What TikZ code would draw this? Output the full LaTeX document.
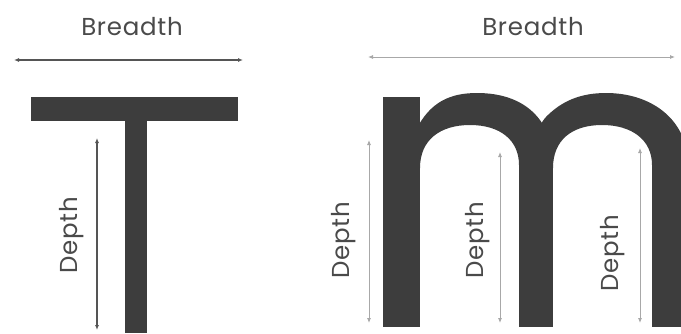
\documentclass[tikz,border=0pt]{standalone}
\usepackage{fontspec}
\setmainfont{Poppins}[LetterSpace=3]
\usetikzlibrary{arrows.meta}
\definecolor{glyph}{HTML}{3D3D3D}
\definecolor{label}{HTML}{4A4A4A}
\definecolor{darkdim}{HTML}{555555}
\definecolor{lightdim}{HTML}{A8A8A8}

\begin{document}
\begin{tikzpicture}[x=1pt,y=-1pt,>={Latex[length=5pt,width=4pt]},
  lbl/.style={text=label,font=\fontsize{24.5}{28}\selectfont,inner sep=0pt},
  dimT/.style={<->,draw=darkdim,line width=1.1pt},
  dimM/.style={<->,draw=lightdim,line width=0.8pt}]
  \useasboundingbox (0,0) rectangle (681,333);
  \clip (0,0) rectangle (681,333);

  % Letter T
  \fill[glyph] (31,97) rectangle (238,121);
  \fill[glyph] (125,121) rectangle (147,333);

  \coordinate (tbL) at (14,60);
  \coordinate (tbR) at (243,60);
  \draw[dimT] (tbL) -- (tbR);
  \node[lbl] (tBreadth) at (132,27) {Breadth};

  \coordinate (tdTop) at (97,138);
  \coordinate (tdBot) at (97,330);
  \draw[dimT] (tdTop) -- (tdBot);
  \node[lbl,rotate=90] (tDepth) at (72,235) {Depth};

  % Letter m: three stems and two arches
  \fill[glyph] (383,97) rectangle (420,327);
  \fill[glyph] (519,160) rectangle (553,327);
  \fill[glyph] (652,160) rectangle (690,327);
  \fill[glyph] (416,130) .. controls (430,102) and (450,93) .. (477,93)
    .. controls (525,93) and (553,120) .. (553,165) -- (519,165)
    .. controls (519,140) and (500,125) .. (470,125)
    .. controls (440,125) and (420,140) .. (420,168) -- (416,168) -- cycle;
  \fill[glyph] (545,118) .. controls (562,100) and (582,93) .. (606,93)
    .. controls (652,93) and (688,120) .. (688,165) -- (652,165)
    .. controls (652,140) and (632,125) .. (602,125)
    .. controls (572,125) and (553,140) .. (553,168) -- (540,168)
    -- (540,125) -- cycle;

  \coordinate (mbL) at (368,57);
  \coordinate (mbR) at (675,57);
  \draw[dimM] (mbL) -- (mbR);
  \node[lbl] (mBreadth) at (533,27) {Breadth};

  \coordinate (md1Top) at (369,140);
  \coordinate (md1Bot) at (369,323);
  \draw[dimM] (md1Top) -- (md1Bot);
  \node[lbl,rotate=90] (mDepthA) at (344,240) {Depth};

  \coordinate (md2Top) at (500,152);
  \coordinate (md2Bot) at (500,323);
  \draw[dimM] (md2Top) -- (md2Bot);
  \node[lbl,rotate=90] (mDepthB) at (478,240) {Depth};

  \coordinate (md3Top) at (640,148);
  \coordinate (md3Bot) at (640,323);
  \draw[dimM] (md3Top) -- (md3Bot);
  \node[lbl,rotate=90] (mDepthC) at (613,253) {Depth};
\end{tikzpicture}
\end{document}
